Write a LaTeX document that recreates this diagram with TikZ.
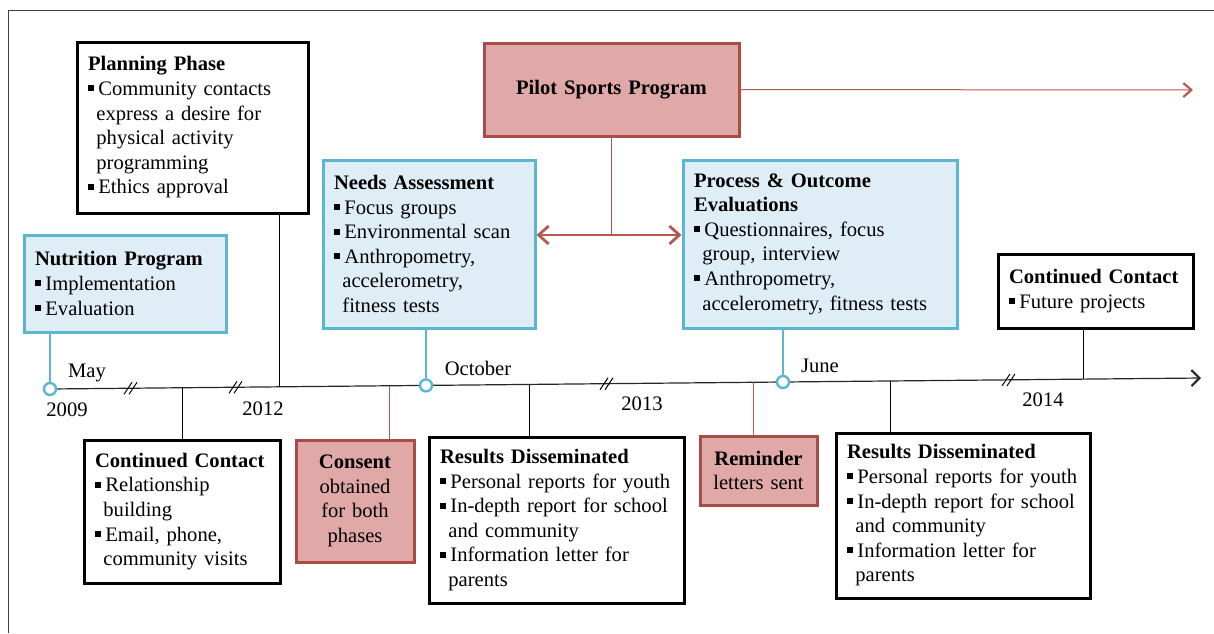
\documentclass[tikz,border=0pt]{standalone}
\usepackage{fontspec}
\setmainfont{Liberation Serif}
\usetikzlibrary{arrows.meta}
\definecolor{boxblue}{RGB}{91,183,209}
\definecolor{fillblue}{RGB}{223,238,246}
\definecolor{boxred}{RGB}{168,76,70}
\definecolor{fillred}{RGB}{224,168,166}
\definecolor{linered}{RGB}{180,88,82}
\newcommand{\bul}{\rule[0.2em]{3pt}{3pt}\hspace{2.2pt}}% square bullet
\newcommand{\ind}{\hspace*{4.2pt}}% indent of wrapped lines

\begin{document}
\begin{tikzpicture}[x=0.5pt, y=-0.5pt,
  font=\fontsize{10.3}{12.3}\selectfont,
  ev/.style={inner xsep=5.5pt, inner ysep=0pt, align=left, line width=1.5pt},
  blackbox/.style={ev, draw=black},
  bluebox/.style={ev, draw=boxblue, fill=fillblue},
  redbox/.style={ev, draw=boxred, fill=fillred, align=center},
  conn/.style={line width=0.5pt},
  bluelink/.style={draw=boxblue, line width=0.6pt},
  redlink/.style={draw=linered, line width=0.5pt},
  dot/.style={circle, draw=boxblue, fill=white, line width=1.2pt, inner sep=0pt, minimum size=6pt}]
  \useasboundingbox (0,0) rectangle (1214,633);
  \draw[black!75, line width=0.5pt] (8,633) -- (8,10) -- (1214,10);
  % boxes above the time line
  \node[bluebox, text width=90pt, minimum height=48.5pt] (nutr) at (125,283.5)
    {\textbf{Nutrition Program}\\ \bul Implementation\\ \bul Evaluation};
  \node[blackbox, text width=104.5pt, minimum height=85.5pt] (plan) at (192.5,127.5)
    {\textbf{Planning Phase}\\ \bul Community contacts\\ \ind express a desire for\\
     \ind physical activity\\ \ind programming\\ \bul Ethics approval};
  \node[bluebox, text width=95pt, minimum height=84pt] (needs) at (429,244)
    {\textbf{Needs Assessment}\\ \bul Focus groups\\ \bul Environmental scan\\
     \bul Anthropometry,\\ \ind accelerometry,\\ \ind fitness tests};
  \node[redbox, text width=116.5pt, minimum height=46.5pt] (pilot) at (611.5,89.5)
    {\textbf{Pilot Sports Program}};
  \node[bluebox, text width=126pt, minimum height=84pt] (proc) at (820,244)
    {\textbf{Process \& Outcome}\\ \textbf{Evaluations}\\ \bul Questionnaires, focus\\
     \ind group, interview\\ \bul Anthropometry,\\ \ind accelerometry, fitness tests};
  \node[blackbox, text width=86.5pt, minimum height=37pt] (cc2) at (1095.5,291)
    {\textbf{Continued Contact}\\ \bul Future projects};
  % boxes below the time line
  \node[blackbox, text width=87pt, minimum height=71.5pt] (cc1) at (182,511.5)
    {\textbf{Continued Contact}\\ \bul Relationship\\ \ind building\\
     \bul Email, phone,\\ \ind community visits};
  \node[redbox, text width=48pt, minimum height=61pt] (consent) at (355,501)
    {\textbf{Consent}\\ obtained\\ for both\\ phases};
  \node[blackbox, text width=116.5pt, minimum height=83pt] (res1) at (556.5,520)
    {\textbf{Results Disseminated}\\ \bul Personal reports for youth\\
     \bul In-depth report for school\\ \ind and community\\
     \bul Information letter for\\ \ind parents};
  \node[redbox, text width=47.5pt, minimum height=34.5pt] (remind) at (758.5,470.5)
    {\textbf{Reminder}\\ letters sent};
  \node[blackbox, text width=116pt, minimum height=82.5pt] (res2) at (963,515.5)
    {\textbf{Results Disseminated}\\ \bul Personal reports for youth\\
     \bul In-depth report for school\\ \ind and community\\
     \bul Information letter for\\ \ind parents};
  % time line
  \coordinate (tMay)  at (50,389);
  \coordinate (tOct)  at (426,385.4);
  \coordinate (tJun)  at (783,382);
  \coordinate (tEnd)  at (1201,378);
  \coordinate (tCc1)  at (182,387.7);
  \coordinate (tPlan) at (279,386.8);
  \coordinate (tCons) at (389,385.8);
  \coordinate (tRes1) at (529,384.4);
  \coordinate (tRem)  at (753,382.3);
  \coordinate (tRes2) at (890,381);
  \coordinate (tCc2)  at (1083,379.1);
  \draw[black!85, line width=0.6pt, -{Straight Barb[length=4pt,width=8pt,line width=1.1pt]}] (tMay) -- (tEnd);
  \foreach \bx/\by in {128/388.3, 233/387.3, 604/383.7, 1006/379.9}
    {\draw[conn] (\bx-4,\by+6) -- ++(8,-12);
     \draw[conn] (\bx+1,\by+6) -- ++(8,-12);}
  \node[dot] (cMay) at (tMay) {};
  \node[dot] (cOct) at (tOct) {};
  \node[dot] (cJun) at (tJun) {};
  % links to the time line
  \draw[bluelink] (cMay |- nutr.south) -- (cMay);
  \draw[bluelink] (cOct |- needs.south) -- (cOct);
  \draw[bluelink] (cJun |- proc.south) -- (cJun);
  \draw[conn] (tPlan |- plan.south) -- (tPlan);
  \draw[conn] (tCc1) -- (cc1.north);
  \draw[redlink] (tCons) -- (tCons |- consent.north);
  \draw[conn] (tRes1) -- (tRes1 |- res1.north);
  \draw[redlink] (tRem) -- (tRem |- remind.north);
  \draw[conn] (tRes2) -- (tRes2 |- res2.north);
  \draw[conn] (tCc2 |- cc2.south) -- (tCc2);
  % dates
  \node (lMay)  at (87,373)  {May};
  \node (l2009) at (67,410)  {2009};
  \node (l2012) at (263,409) {2012};
  \node (lOct)  at (478,368) {October};
  \node (l2013) at (642,404) {2013};
  \node (lJun)  at (820,366) {June};
  \node (l2014) at (1043,400) {2014};
  % pilot program arrows
  \coordinate (pJoin) at (611.5,235);
  \coordinate (pEnd)  at (1193,90);
  \draw[redlink] (pilot.south) -- (pJoin);
  \draw[draw=linered, line width=0.8pt,
    {Straight Barb[length=5pt,width=9pt,line width=1.4pt]}-{Straight Barb[length=5pt,width=9pt,line width=1.4pt]}]
    (needs.east |- pJoin) -- (proc.west |- pJoin);
  \draw[redlink, -{Straight Barb[length=4pt,width=7pt,line width=1.1pt]}] (pilot.east) -- (pEnd);
\end{tikzpicture}
\end{document}
